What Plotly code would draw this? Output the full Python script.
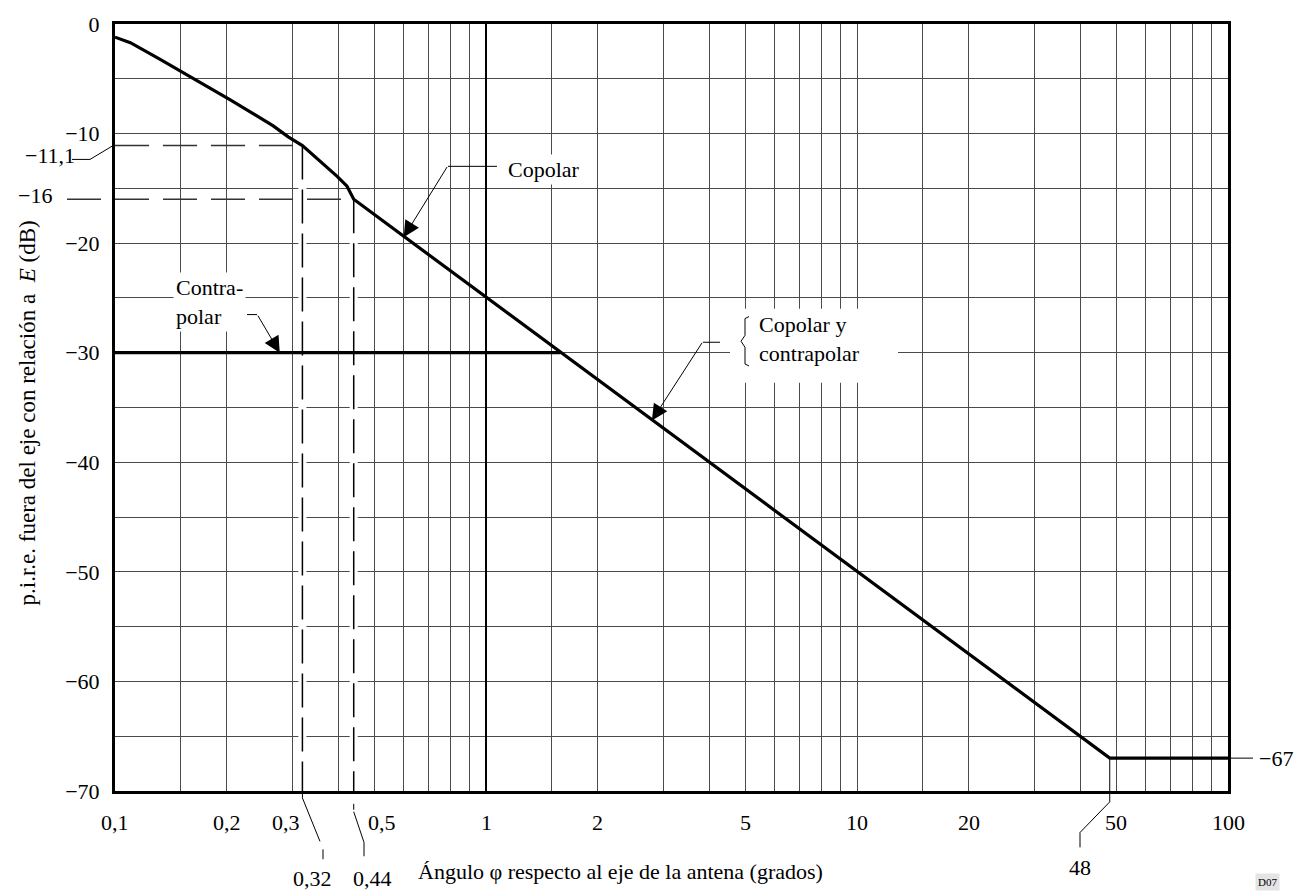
import math
import plotly.graph_objects as go

# ---------------- data ----------------
phi_copolar = [0.1, 0.11, 0.132, 0.152, 0.204, 0.267, 0.293, 0.32, 0.357, 0.397, 0.422, 0.44, 48, 100]
gain_copolar = [-1.2, -1.7, -3.2, -4.4, -6.9, -9.3, -10.3, -11.1, -12.5, -13.9, -14.8, -16.0, -67.0, -67.0]
phi_contrapolar = [0.1, 1.585]
gain_contrapolar = [-30.0, -30.0]

x_tick_values = [0.1, 0.2, 0.3, 0.5, 1, 2, 5, 10, 20, 50, 100]
x_tick_labels = ["0,1", "0,2", "0,3", "0,5", "1", "2", "5", "10", "20", "50", "100"]
y_tick_values = [0, -10, -20, -30, -40, -50, -60, -70]
y_tick_labels = ["0", "−10", "−20", "−30", "−40", "−50", "−60", "−70"]

mark_phi_a, mark_phi_b = 0.32, 0.44
mark_gain_a, mark_gain_b = -11.1, -16.0
floor_phi, floor_gain = 48, -67.0

# ---------------- geometry helpers ----------------
W, H = 1304, 893
L, R, T, B = 115, 1228, 15, 791
FONT = "Liberation Serif"
FS = 22


def xpix(v):
    return L + (math.log10(v) + 1) / 3 * (R - L)


def ypix(d):
    return T + (-d) / 70 * (B - T)


def px(p):
    return (p - L) / (R - L)


def py(p):
    return (B - p) / (B - T)


grid_x = []
for dec in [0.1, 1, 10]:
    for m in [1, 1.5, 2, 3, 4, 5, 6, 7, 8, 9]:
        grid_x.append(round(dec * m, 6))
grid_x.append(100)
grid_y = list(range(-70, 1, 5))

fig = go.Figure()

# white underlays of vertical dashed markers
for ph, g in [(mark_phi_a, mark_gain_a), (mark_phi_b, mark_gain_b)]:
    fig.add_trace(go.Scatter(x=[ph, ph], y=[g - 0.6, -70], mode="lines",
                             line=dict(color="white", width=8), hoverinfo="skip", showlegend=False))
# dashed markers
for ph, g in [(mark_phi_a, mark_gain_a), (mark_phi_b, mark_gain_b)]:
    fig.add_trace(go.Scatter(x=[ph, ph], y=[g, -70], mode="lines",
                             line=dict(color="black", width=1.5, dash="34px,10px"),
                             hoverinfo="skip", showlegend=False))
    fig.add_trace(go.Scatter(x=[0.1, ph], y=[g, g], mode="lines",
                             line=dict(color="#333", width=1.5, dash="34px,14px"),
                             hoverinfo="skip", showlegend=False))

# thick line at 1 degree
fig.add_trace(go.Scatter(x=[1, 1], y=[-70, 0], mode="lines",
                         line=dict(color="black", width=2), hoverinfo="skip", showlegend=False))

# main curves
fig.add_trace(go.Scatter(x=phi_contrapolar, y=gain_contrapolar, mode="lines",
                         line=dict(color="black", width=3.2), name="Contrapolar", showlegend=False))
fig.add_trace(go.Scatter(x=phi_copolar, y=gain_copolar, mode="lines",
                         line=dict(color="black", width=3.2), name="Copolar", showlegend=False))

shapes = []
annotations = []


def seg(points, width=1, dash=None, color="black"):
    for (x0, y0), (x1, y1) in zip(points[:-1], points[1:]):
        ln = dict(color=color, width=width)
        if dash:
            ln["dash"] = dash
        shapes.append(dict(type="line", xref="paper", yref="paper",
                           x0=px(x0), y0=py(y0), x1=px(x1), y1=py(y1), line=ln, layer="above"))


def text(t, x, y, xanchor="center", yanchor="middle", size=FS, align="center", bg=None, **kw):
    a = dict(text=t, x=px(x), y=py(y), xref="paper", yref="paper", showarrow=False,
             xanchor=xanchor, yanchor=yanchor, align=align,
             font=dict(family=FONT, size=size, color="black"))
    if bg:
        a["bgcolor"] = bg
        a["borderpad"] = 2
    a.update(kw)
    annotations.append(a)


def arrow(tip_phi, tip_gain, bend_x, bend_y):
    tx, ty = xpix(tip_phi), ypix(tip_gain)
    annotations.append(dict(x=math.log10(tip_phi), y=tip_gain, xref="x", yref="y", text="",
                            showarrow=True, ax=bend_x - tx, ay=bend_y - ty, axref="pixel", ayref="pixel",
                            arrowhead=2, arrowsize=3.2, arrowwidth=1, arrowcolor="black", standoff=0))


# x tick labels
x_shift = {0.3: -6, 0.5: 8}
for v, t in zip(x_tick_values, x_tick_labels):
    annotations.append(dict(text=t, x=math.log10(v), y=py(823), xref="x", yref="paper", showarrow=False,
                            xanchor="center", yanchor="middle", xshift=x_shift.get(v, 0),
                            font=dict(family=FONT, size=FS, color="black")))

# special marker labels
text("−11,1", 77, 148, xanchor="right")
seg([(72, 152), (90, 152), (113, ypix(mark_gain_a))])
text("−16", 35, 189)
seg([(67, ypix(mark_gain_b)), (L, ypix(mark_gain_b))], width=1.5, dash="34px,14px", color="#333")

text("0,32", 312, 880)
seg([(xpix(mark_phi_a), B), (xpix(mark_phi_a), 798), (320, 842)])
seg([(323, 850), (323, 860)])
text("0,44", 372, 880)
seg([(xpix(mark_phi_b), 804), (xpix(mark_phi_b), 810)])
seg([(xpix(mark_phi_b), 812), (364, 843), (364, 857)])

text("48", 1080, 868)
seg([(xpix(floor_phi), ypix(floor_gain)), (xpix(floor_phi), 802), (1080, 833), (1080, 848)])
text("−67", 1257, ypix(floor_gain), xanchor="left")
seg([(R, ypix(floor_gain)), (1253, ypix(floor_gain))])

# Copolar label
text("Copolar", 505, 162, xanchor="left", bg="white")
seg([(448, 159), (497, 159)])
arrow(0.6, -25 - 25 * math.log10(0.6), 448, 159)

# Contrapolar label
text("Contra-<br>polar", 173, 296, xanchor="left", align="left", bg="white")
seg([(247, 309), (257, 309)])
arrow(0.278, -30, 257, 309)

# Copolar y contrapolar
shapes.append(dict(type="rect", xref="paper", yref="paper", x0=px(730), x1=px(898), y0=py(378), y1=py(303),
                   fillcolor="white", line=dict(width=0), layer="above"))
text("Copolar y<br>contrapolar", 757, 334, xanchor="left", align="left")
seg([(703, 337), (720, 337)])
arrow(2.8, -25 - 25 * math.log10(2.8), 703, 337)
# brace
bp = [(749, 311), (745, 313), (745, 330), (741, 336), (745, 342), (745, 359), (749, 361)]
seg(bp[:3])
seg(bp[2:5])
seg(bp[4:])

# axis titles
text("Ángulo φ respecto al eje de la antena (grados)", 620, 872)
text("p.i.r.e. fuera del eje con relación a\u00a0 <i>E</i> (dB)", 27, 409, textangle=-90, size=23)

# figure id tag
text("D07", 1267, 892, size=11, yanchor="bottom", bg="#e4e4e4")

fig.update_layout(
    width=W, height=H,
    margin=dict(l=L, r=W - R, t=T, b=H - B),
    paper_bgcolor="white", plot_bgcolor="white",
    showlegend=False,
    shapes=shapes, annotations=annotations,
    font=dict(family=FONT, size=FS, color="black"),
)
fig.update_xaxes(type="log", range=[-1, 2], tickvals=grid_x, showticklabels=False,
                 showgrid=True, gridcolor="#4a4a4a", gridwidth=1, ticks="",
                 showline=True, mirror=True, linecolor="black", linewidth=3, zeroline=False)
fig.update_yaxes(range=[-70, 0], tickvals=grid_y,
                 ticktext=[y_tick_labels[y_tick_values.index(v)] if v in y_tick_values else "" for v in grid_y],
                 showgrid=True, gridcolor="#4a4a4a", gridwidth=1, ticks="", ticklabelstandoff=8,
                 tickfont=dict(family=FONT, size=FS, color="black"),
                 showline=True, mirror=True, linecolor="black", linewidth=3, zeroline=False)

fig.write_html("out.html")
